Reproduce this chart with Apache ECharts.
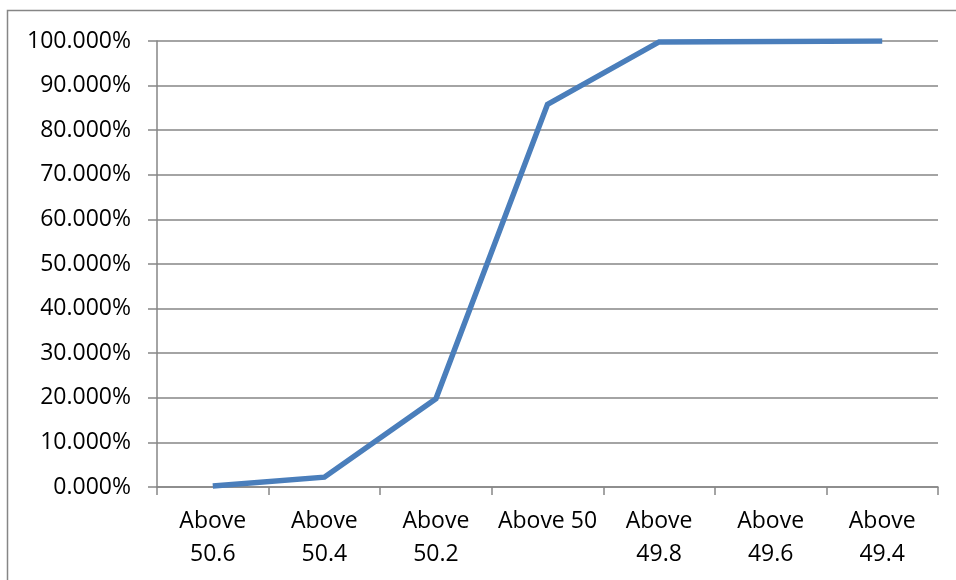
<!DOCTYPE html>
<html>
<head>
<meta charset="utf-8">
<script src="https://cdn.jsdelivr.net/npm/echarts@6/dist/echarts.min.js"></script>
<style>
html,body{margin:0;padding:0;background:#fff;}
#chart{width:956px;height:580px;}
</style>
</head>
<body>
<div id="chart"></div>
<script>
var categories = ['Above\n50.6','Above\n50.4','Above\n50.2','Above 50','Above\n49.8','Above\n49.6','Above\n49.4'];
var values = [0.25, 2.2, 19.8, 85.8, 99.8, 99.9, 100];
var yTicks = [0,10,20,30,40,50,60,70,80,90,100];

var chart = echarts.init(document.getElementById('chart'));
var gray = '#868686';
chart.setOption({
  animation: false,
  backgroundColor: '#ffffff',
  graphic: [{
    type: 'rect',
    shape: {x: 7.5, y: 10.5, width: 1000, height: 1000},
    style: {fill: 'none', stroke: gray, lineWidth: 1.5},
    silent: true
  }],
  grid: {left: 157, right: 18, top: 41, bottom: 93, containLabel: false},
  xAxis: {
    type: 'category',
    data: categories,
    boundaryGap: true,
    axisLine: {lineStyle: {color: gray, width: 1.5}},
    axisTick: {show: true, alignWithLabel: false, length: 8, lineStyle: {color: gray, width: 1.5}},
    axisLabel: {
      interval: 0,
      margin: 18,
      color: '#000',
      fontFamily: 'Open Sans',
      fontSize: 23,
      lineHeight: 33,
      align: 'center'
    },
    splitLine: {show: false}
  },
  yAxis: {
    type: 'value',
    min: yTicks[0],
    max: yTicks[yTicks.length - 1],
    interval: 10,
    axisLine: {show: true, lineStyle: {color: gray, width: 1.5}},
    axisTick: {show: true, length: 9, lineStyle: {color: gray, width: 1.5}},
    axisLabel: {
      margin: 26,
      color: '#000',
      fontFamily: 'Open Sans',
      fontSize: 23,
      formatter: function (v) { return v.toFixed(3) + '%'; }
    },
    splitLine: {show: true, lineStyle: {color: gray, width: 1.5}}
  },
  series: [{
    type: 'line',
    data: values,
    symbol: 'none',
    lineStyle: {color: '#4A7EBB', width: 5.5, join: 'miter'},
    itemStyle: {color: '#4A7EBB'}
  }]
});
</script>
</body>
</html>
